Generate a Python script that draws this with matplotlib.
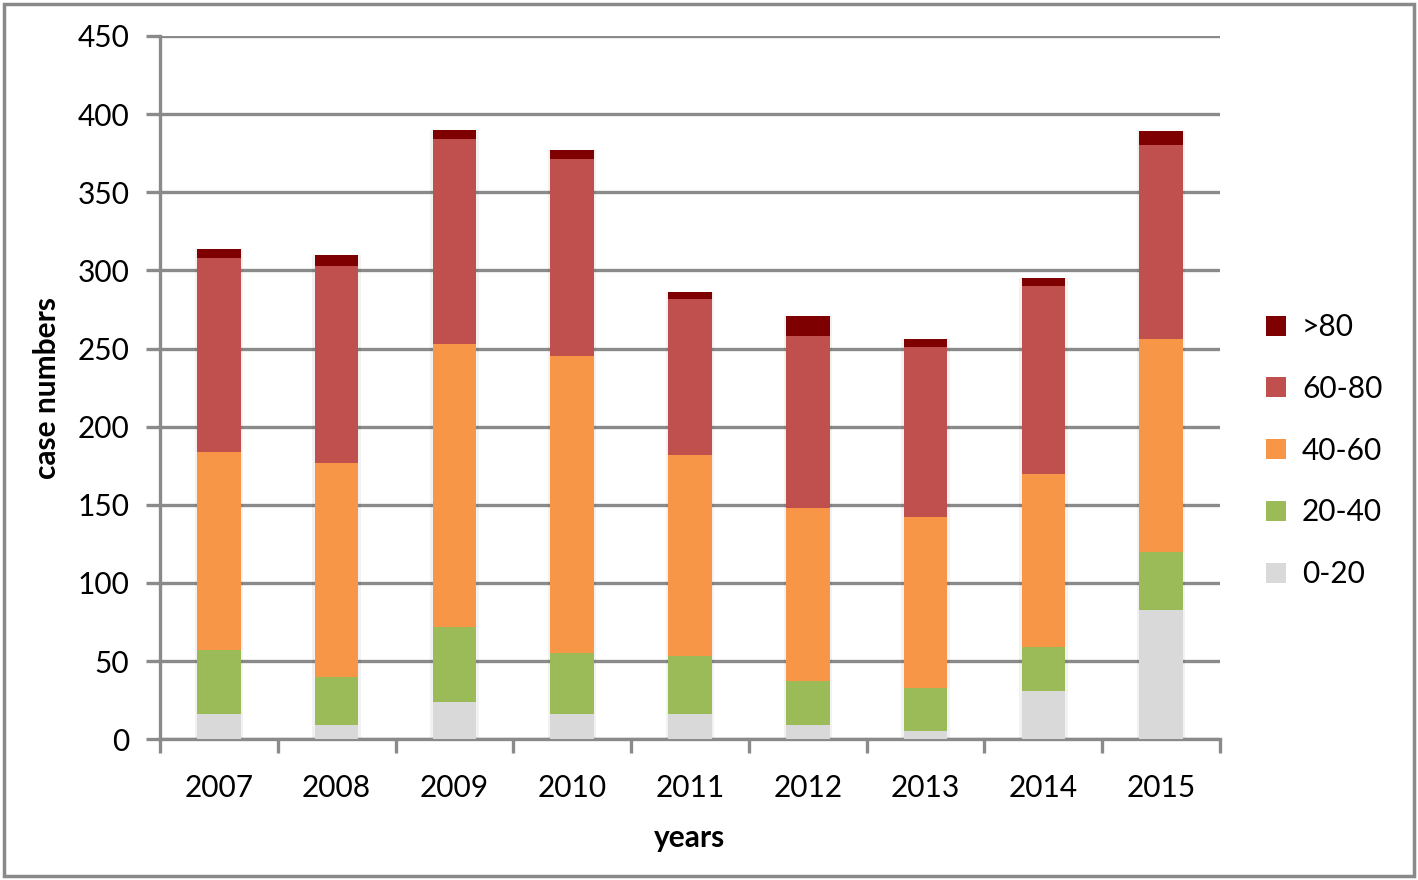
import matplotlib.pyplot as plt
from matplotlib.patches import Rectangle
import numpy as np

plt.rcParams['font.family'] = ['Lato', 'DejaVu Sans']

years = ['2007', '2008', '2009', '2010', '2011', '2012', '2013', '2014', '2015']
age_0_20 = [16, 9, 24, 16, 16, 9, 5, 31, 83]
age_20_40 = [41, 31, 48, 39, 37, 28, 28, 28, 37]
age_40_60 = [127, 137, 181, 190, 129, 111, 109, 111, 136]
age_60_80 = [124, 126, 131, 126, 100, 110, 109, 120, 124]
age_80_plus = [6, 7, 6, 6, 4, 13, 5, 5, 9]

series = [('0-20', age_0_20, '#d9d9d9'),
          ('20-40', age_20_40, '#9bbb59'),
          ('40-60', age_40_60, '#f79646'),
          ('60-80', age_60_80, '#c0504d'),
          ('>80', age_80_plus, '#7f0000')]

grey = '#8a8a8a'

fig = plt.figure(figsize=(14.18, 8.8), dpi=100)
ax = fig.add_axes([0.1128, 0.1599, 0.7476, 0.7992])

x = np.arange(len(years))
width = 0.37

# faint shadow behind the bars
totals = np.sum([s[1] for s in series], axis=0)
ax.bar(x, totals, width + 0.04, color='#000000', alpha=0.05, zorder=2, linewidth=0)

bottom = np.zeros(len(years))
handles = []
for name, vals, col in series:
    b = ax.bar(x, vals, width, bottom=bottom, color=col, label=name, zorder=3, linewidth=0)
    handles.append(b)
    bottom += np.array(vals)

ax.set_xlim(-0.5, len(years) - 0.5)
ax.set_ylim(0, 450)
ax.set_yticks(np.arange(0, 451, 50))
ax.set_xticks(x)
ax.set_xticklabels(years)
ax.set_xticks(np.arange(-0.5, len(years), 1), minor=True)

ax.grid(axis='y', color=grey, linewidth=2.4, zorder=0)
ax.set_axisbelow(True)
for s in ['top', 'right']:
    ax.spines[s].set_visible(False)
for s in ['left', 'bottom']:
    ax.spines[s].set_color(grey)
    ax.spines[s].set_linewidth(2.4)

ax.tick_params(axis='y', length=10, width=2.4, color=grey, labelsize=21.5, pad=12)
ax.tick_params(axis='x', which='major', length=0, labelsize=21.5, pad=25)
ax.tick_params(axis='x', which='minor', length=10, width=2.4, color=grey)

ax.set_xlabel('years', fontsize=21.5, fontweight='bold', labelpad=16)
ax.set_ylabel('case numbers', fontsize=21.5, fontweight='bold', labelpad=12)

fig.legend(handles[::-1], [s[0] for s in series][::-1],
           loc='center left', bbox_to_anchor=(0.874, 0.488),
           frameon=False, fontsize=21.5, handlelength=0.65, handleheight=0.65,
           handletextpad=0.55, labelspacing=1.13)

fig.patches.append(Rectangle((0.003, 0.004), 0.994, 0.992, transform=fig.transFigure,
                             fill=False, edgecolor=grey, linewidth=2.5))

fig.savefig('out.png', dpi=100)
